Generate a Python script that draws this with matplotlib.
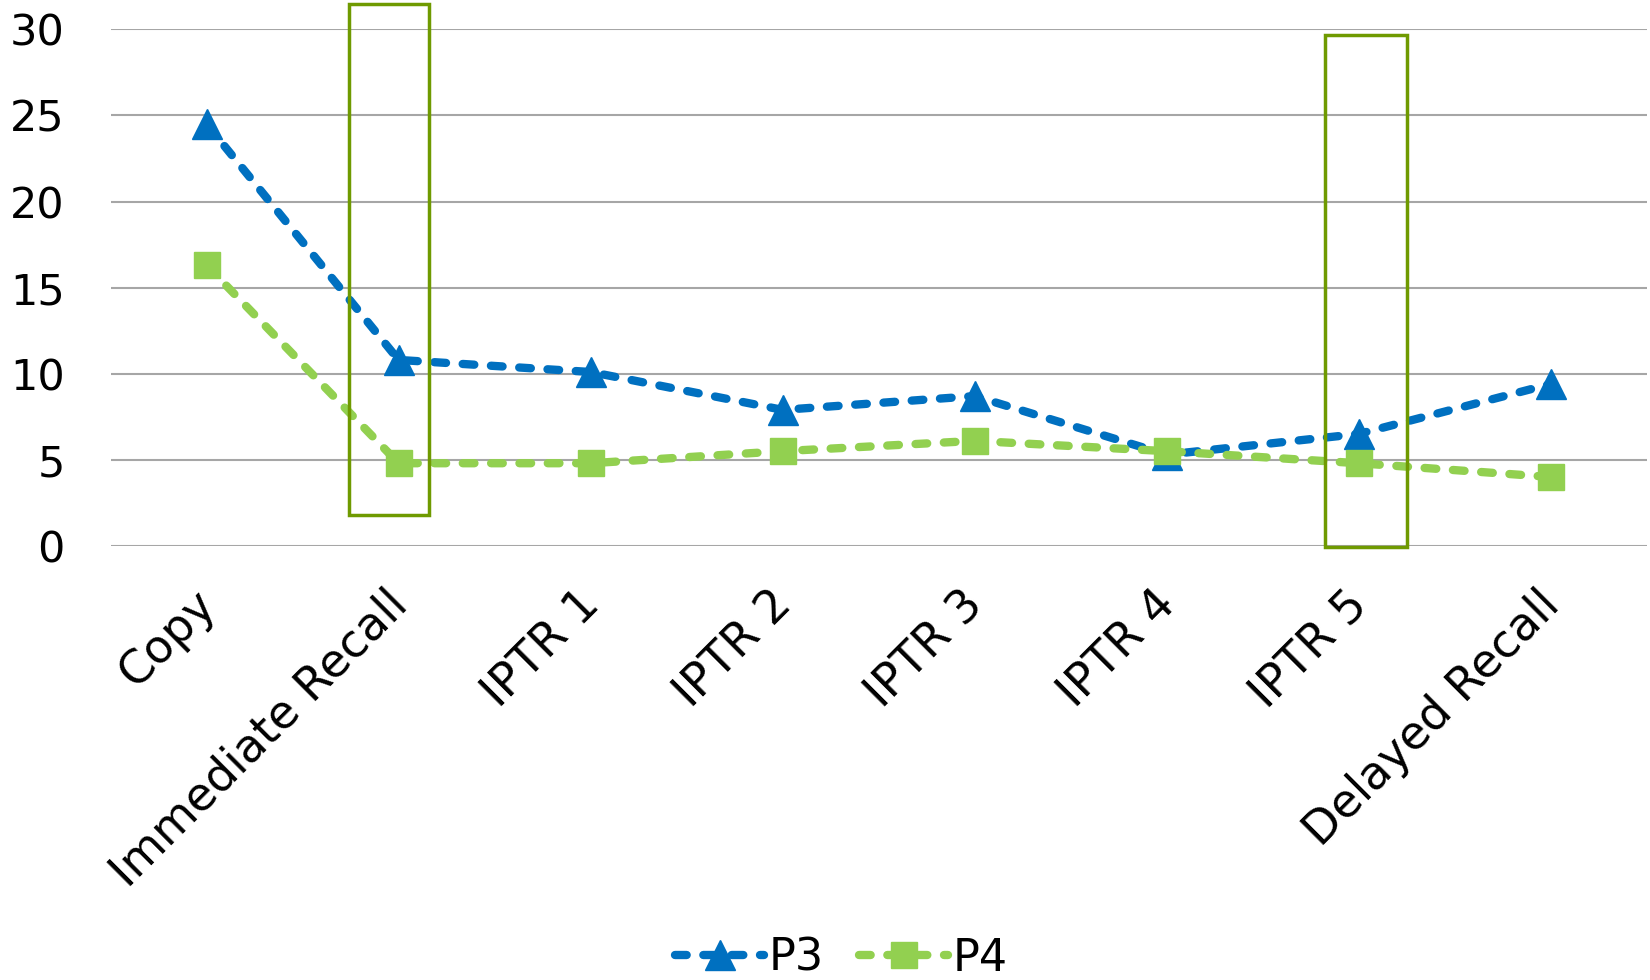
import matplotlib.pyplot as plt
import matplotlib.transforms as mtransforms
from matplotlib.patches import Rectangle

# values
categories = ['Copy', 'Immediate Recall', 'IPTR 1', 'IPTR 2', 'IPTR 3',
              'IPTR 4', 'IPTR 5', 'Delayed Recall']
p3 = [24.5, 10.8, 10.1, 7.9, 8.7, 5.3, 6.5, 9.4]
p4 = [16.3, 4.8, 4.8, 5.5, 6.1, 5.5, 4.8, 4.0]
yticks = [0, 5, 10, 15, 20, 25, 30]

plt.rcParams['font.family'] = ['DejaVu Sans']

fig = plt.figure(figsize=(16.5, 9.8), dpi=100)
ax = fig.add_axes([0.067, 0.443, 0.931, 0.527])

x = list(range(len(categories)))
dash = (0, (1.4, 2.0))
ax.plot(x, p3, color='#0070c0', lw=6, ls=dash, marker='^',
        markersize=21, label='P3', dash_capstyle='round')
ax.plot(x, p4, color='#92d050', lw=6, ls=dash, marker='s',
        markersize=19, label='P4', dash_capstyle='round')

ax.set_xlim(-0.5, len(categories) - 0.5)
ax.set_ylim(0, 30)
ax.set_yticks(yticks)
ax.grid(axis='y', color='#a6a6a6', lw=1.5)
ax.set_axisbelow(True)
for s in ax.spines.values():
    s.set_visible(False)
ax.tick_params(length=0)
ax.tick_params(axis='y', pad=33, labelsize=31)
ax.tick_params(axis='x', pad=16, labelsize=33)
ax.set_xticks(x)
ax.set_xticklabels(categories, rotation=45, ha='right', rotation_mode='anchor')
shift = mtransforms.ScaledTranslation(-10 / 72, -10 / 72, fig.dpi_scale_trans)
for lbl in ax.get_xticklabels():
    lbl.set_transform(lbl.get_transform() + shift)

# highlight boxes
for (x0, x1, y0, y1) in [(0.74, 1.16, 1.77, 31.46), (5.825, 6.25, -0.06, 29.7)]:
    ax.add_patch(Rectangle((x0, y0), x1 - x0, y1 - y0, fill=False,
                           edgecolor='#6f9a00', lw=2.5, clip_on=False, zorder=5))

fig.legend(loc='center', bbox_to_anchor=(0.51, 0.022), ncol=2, frameon=False,
           fontsize=32, handlelength=2.0, columnspacing=0.8, handletextpad=0.1)

fig.savefig('out.png')
